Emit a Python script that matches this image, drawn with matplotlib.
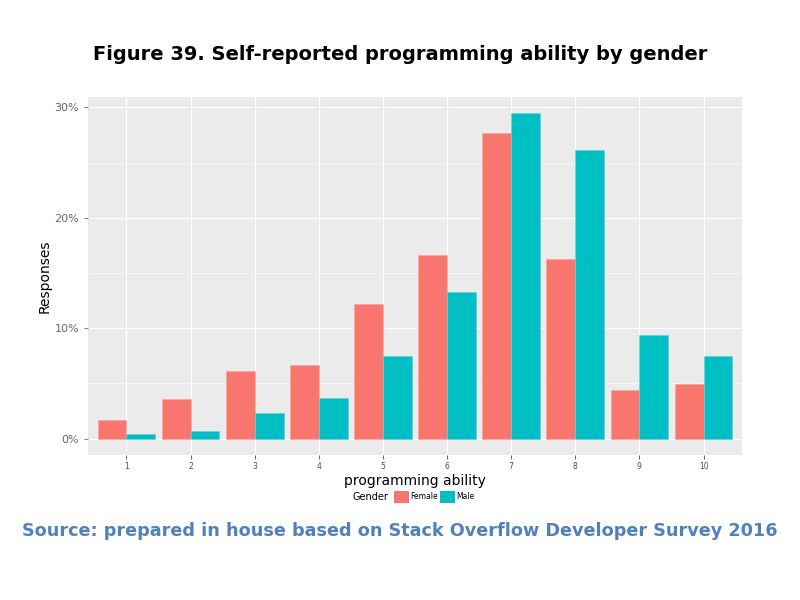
import numpy as np
import matplotlib.pyplot as plt
from matplotlib.patches import Patch
from matplotlib.ticker import FuncFormatter, MultipleLocator

# Data (percent of responses)
ability = [1, 2, 3, 4, 5, 6, 7, 8, 9, 10]
female = [1.65, 3.6, 6.1, 6.7, 12.2, 16.6, 27.7, 16.3, 4.4, 4.9]
male = [0.4, 0.65, 2.3, 3.7, 7.5, 13.3, 29.45, 26.1, 9.4, 7.5]

female_color = '#F8766D'
male_color = '#00BFC4'

fig = plt.figure(figsize=(8, 6), dpi=100)
ax = fig.add_axes([0.11, 0.242, 0.8175, 0.596])

x = np.array(ability)
w = 0.45
ax.bar(x - w / 2, female, width=w, color=female_color, edgecolor='#F9A39C', linewidth=0.4, zorder=3)
ax.bar(x + w / 2, male, width=w, color=male_color, edgecolor='#5CD3D6', linewidth=0.4, zorder=3)

ax.set_facecolor('#EBEBEB')
ax.set_xlim(0.4, 10.6)
ax.set_ylim(-1.47, 30.92)
ax.set_xticks(ability)
ax.set_xticklabels([str(a) for a in ability], fontsize=5.5, color='#4D4D4D')
ax.yaxis.set_major_locator(MultipleLocator(10))
ax.yaxis.set_minor_locator(MultipleLocator(5))
ax.yaxis.set_major_formatter(FuncFormatter(lambda v, p: f'{v:.0f}%'))
ax.tick_params(axis='y', labelsize=8, colors='#666666', length=3, width=0.6, which='major')
ax.tick_params(axis='y', which='minor', length=0)
ax.tick_params(axis='x', length=3, width=0.6, colors='#4D4D4D', pad=2)
ax.grid(which='major', color='white', linewidth=0.8, zorder=0)
ax.grid(which='minor', axis='y', color='white', linewidth=0.4, zorder=0)
for s in ax.spines.values():
    s.set_visible(False)

ax.set_xlabel('programming ability', fontsize=10, labelpad=2)
ax.set_ylabel('Responses', fontsize=10, labelpad=2)

fig.text(0.5, 1 - 55 / 600, 'Figure 39. Self-reported programming ability by gender',
         ha='center', va='center', fontsize=14, fontweight='bold', family='DejaVu Sans')

# legend at the bottom
fig.text(0.463, 1 - 497 / 600, 'Gender', ha='center', va='center', fontsize=7)
handles = [Patch(facecolor=female_color, label='Female'), Patch(facecolor=male_color, label='Male')]
fig.legend(handles=handles, loc='center', bbox_to_anchor=(0.543, 1 - 497 / 600), ncol=2,
           frameon=False, fontsize=5.5, handlelength=1.9, handleheight=1.9,
           handletextpad=0.2, columnspacing=0.3)

fig.text(0.5, 1 - 531 / 600, 'Source: prepared in house based on Stack Overflow Developer Survey 2016',
         ha='center', va='center', fontsize=12.7, fontweight='bold', color='#4F81BD')

fig.savefig('out.png', dpi=100)
